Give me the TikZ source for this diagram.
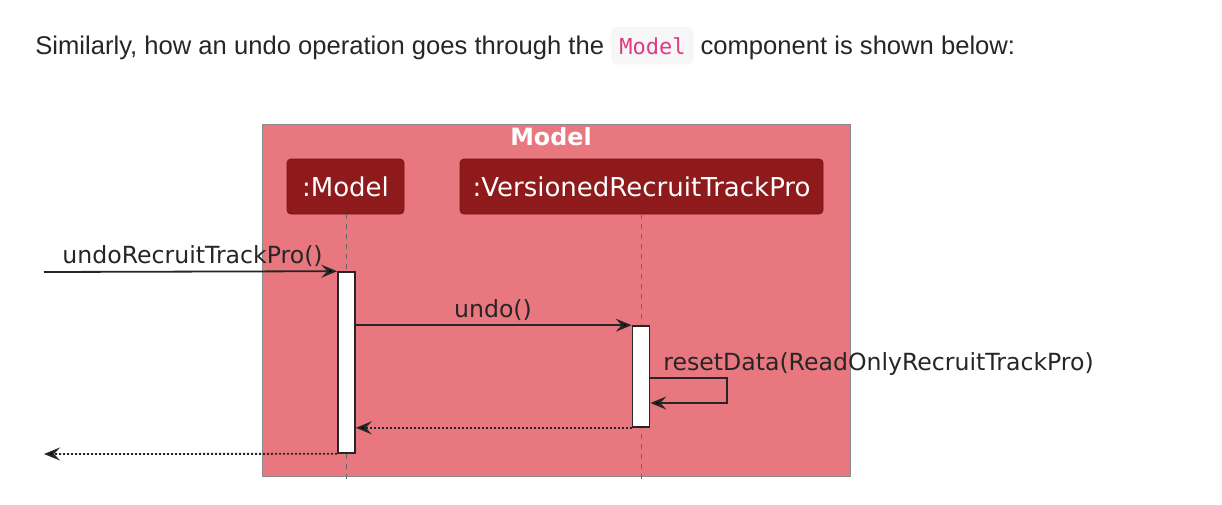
\documentclass[tikz,border=0pt]{standalone}
\usepackage{fontspec}
\setmainfont{DejaVu Sans}
\newfontfamily\uifont{Liberation Sans}
\newfontfamily\codefont{DejaVu Sans Mono}
\usetikzlibrary{arrows.meta}
\definecolor{framered}{RGB}{232,119,128}
\definecolor{partred}{RGB}{142,26,27}
\definecolor{codepink}{RGB}{222,60,130}
\definecolor{codebg}{RGB}{246,246,246}
\tikzset{
  part/.style={draw=partred!80!black, fill=partred, rounded corners=2pt, text=white,
    minimum height=27.5pt, inner sep=0pt, font=\fontsize{13}{15}\selectfont},
  actbox/.style={draw=black!85, fill=white, line width=0.8pt, minimum width=8.5pt, inner sep=0pt},
  life/.style={draw=black!60, line width=0.5pt, dash pattern=on 2.5pt off 2.5pt},
  msg/.style={draw=black!85, line width=0.9pt, -{Stealth[length=8pt, width=6.5pt, inset=3pt]}},
  ret/.style={msg, dash pattern=on 1pt off 1pt},
  lbl/.style={font=\fontsize{11.8}{14}\selectfont, text=black!85, inner sep=0pt}
}
\begin{document}
\begin{tikzpicture}[x=0.5pt, y=-0.5pt]
  \useasboundingbox [fill=white] (0,0) rectangle (1222,504);
  % intro line
  \node [anchor=base west, inner sep=0pt, font=\uifont\fontsize{12.8}{15}\selectfont, text=black!85] (intro) at (35,54)
    {Similarly, how an undo operation goes through the
     \tikz[baseline=(c.base)] \node [fill=codebg, rounded corners=2.5pt, inner xsep=4pt, inner ysep=5pt,
       text=codepink, font=\codefont\fontsize{11}{13}\selectfont] (c) {Model};
     component is shown below:};
  % frame
  \draw [draw=black!45, fill=framered] (262,124) rectangle (850,476);
  \node [font=\bfseries\fontsize{11.9}{14}\selectfont, text=white, inner sep=0pt] (title) at (551,137) {Model};
  % participants
  \node [part, minimum width=58.5pt] (model) at (345.5,186.5) {:Model};
  \node [part, minimum width=181.5pt] (vrtp) at (641.5,186.5) {:VersionedRecruitTrackPro};
  \coordinate (modelend) at (346,483);
  \coordinate (vrtpend) at (641,483);
  \draw [life] (model.south -| modelend) -- (modelend);
  \draw [life] (vrtp.south -| vrtpend) -- (vrtpend);
  % activations
  \node [actbox, minimum height=90.5pt] (actm) at (346.5,362.5) {};
  \node [actbox, minimum height=50.5pt] (actv) at (641,376.5) {};
  % messages
  \coordinate (in) at (44,272);
  \coordinate (out) at (44,454);
  \draw [msg] (in) -- (actm.north west);
  \node [lbl, anchor=base west] (l1) at (62,263) {undoRecruitTrackPro()};
  \draw [msg] (actm.east |- actv.north) -- (actv.north west);
  \node [lbl, anchor=base] (l2) at (493,317) {undo()};
  \coordinate (loopr) at (727,378);
  \draw [msg] (actv.east |- loopr) -- (loopr) -- (727,403) -- (actv.east |- 0,403);
  \node [lbl, anchor=base west] (l3) at (663,370) {resetData(ReadOnlyRecruitTrackPro)};
  \draw [ret] (actv.south west) -- (actm.east |- actv.south);
  \draw [ret] (actm.south west) -- (out);
\end{tikzpicture}
\end{document}
